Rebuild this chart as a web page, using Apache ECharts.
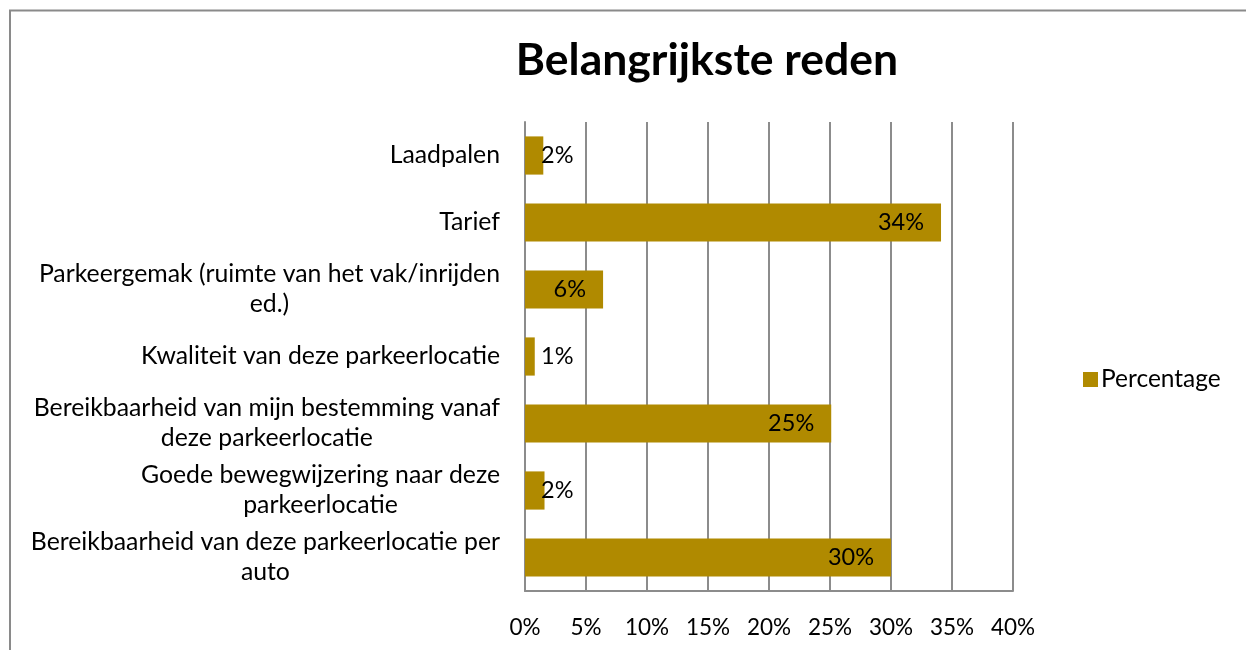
<!DOCTYPE html>
<html>
<head>
<meta charset="utf-8">
<script src="https://cdn.jsdelivr.net/npm/echarts@6/dist/echarts.min.js"></script>
<style>
  html, body { margin: 0; padding: 0; background: #fff; }
  #chart { width: 1246px; height: 650px; }
</style>
</head>
<body>
<div id="chart"></div>
<script>
// categories, top to bottom
const categories = [
  'Laadpalen',
  'Tarief',
  'Parkeergemak (ruimte van het vak/inrijden\ned.)',
  'Kwaliteit van deze parkeerlocatie',
  'Bereikbaarheid van mijn bestemming vanaf\ndeze parkeerlocatie',
  'Goede bewegwijzering naar deze\nparkeerlocatie',
  'Bereikbaarheid van deze parkeerlocatie per\nauto'
]
// percentage per category
const percentage = [1.5, 34.1, 6.4, 0.8, 25.1, 1.6, 30.0]
const seriesName = 'Percentage'

const gold = '#B08A00'
const gridColor = '#8C8C8C'
const font = 'Lato, "Open Sans", sans-serif'

const chart = echarts.init(document.getElementById('chart'))

chart.setOption({
  animation: false,
  title: {
    text: 'Belangrijkste reden',
    left: 702,
    top: 33,
    textAlign: 'center',
    textStyle: { fontFamily: font, fontWeight: 'bold', fontSize: 44.5, color: '#000' }
  },
  legend: {
    data: [seriesName],
    orient: 'vertical',
    left: 1078,
    top: 362,
    itemWidth: 15,
    itemHeight: 15,
    itemGap: 8,
    icon: 'rect',
    textStyle: { fontFamily: font, fontSize: 24.5, color: '#000', padding: [0, 0, 0, -2] }
  },
  graphic: [{
    type: 'rect',
    shape: { x: 10, y: 10.5, width: 1400, height: 1000 },
    style: { fill: 'none', stroke: '#8a8a8a', lineWidth: 2 },
    silent: true
  }],
  grid: { left: 525, right: 233, top: 122, bottom: 59, containLabel: false },
  xAxis: {
    type: 'value',
    min: 0,
    max: 40,
    interval: 5,
    axisLine: { show: true, lineStyle: { color: gridColor, width: 2 } },
    axisTick: { show: false },
    splitLine: { show: true, lineStyle: { color: gridColor, width: 2 } },
    axisLabel: {
      formatter: '{value}%',
      margin: 25,
      fontFamily: font,
      fontSize: 22.5,
      color: '#000'
    }
  },
  yAxis: {
    type: 'category',
    inverse: true,
    data: categories,
    axisLine: { show: true, lineStyle: { color: gridColor, width: 2 } },
    axisTick: { show: false },
    axisLabel: {
      margin: 25,
      formatter: v => v.split('\n').map(s => '{c|' + s + '}').join('\n'),
      rich: {
        c: { align: 'center', fontFamily: font, fontSize: 24.8, color: '#000', lineHeight: 30 }
      }
    }
  },
  series: [{
    name: seriesName,
    type: 'bar',
    barCategoryGap: '43%',
    itemStyle: { color: gold },
    data: percentage.map(v => ({
      value: v,
      label: v < 5
        ? { position: 'insideLeft', distance: 16 }
        : { position: 'insideRight', distance: 17 }
    })),
    label: {
      show: true,
      formatter: p => Math.round(p.value) + '%',
      fontFamily: font,
      fontSize: 23.5,
      color: '#000'
    }
  }]
})
</script>
</body>
</html>
